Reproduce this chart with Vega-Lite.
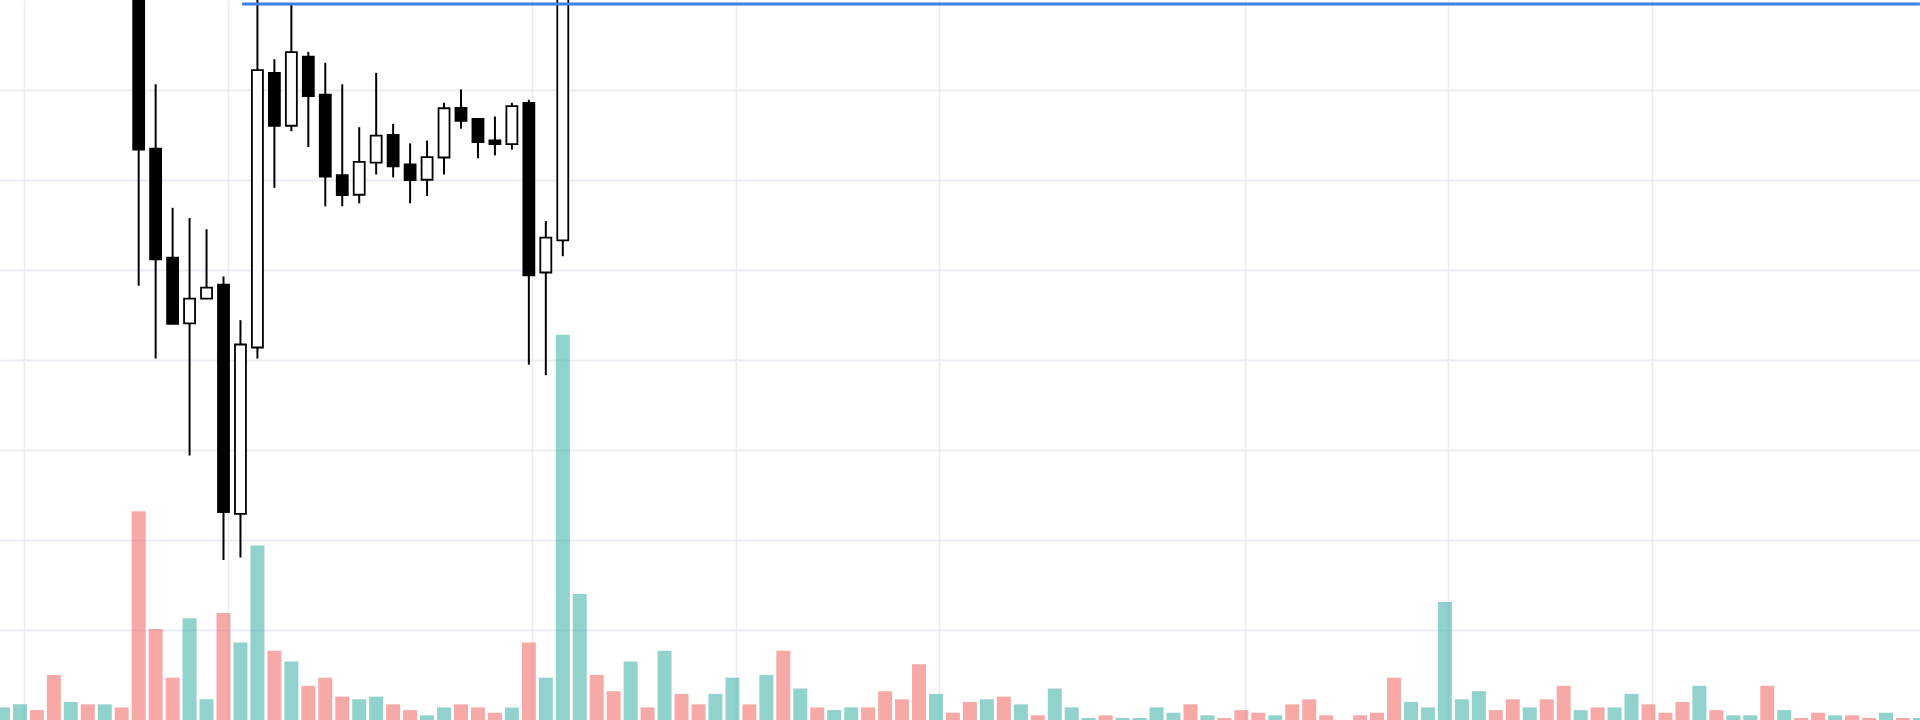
{
  "$schema": "https://vega.github.io/schema/vega-lite/v6.json",
  "width": 1920,
  "height": 720,
  "autosize": {"type": "fit", "contains": "padding"},
  "padding": 0,
  "background": "white",
  "config": {
    "view": {"stroke": null},
    "axis": {"gridColor": "#E9EEF5", "gridWidth": 1.8, "labels": false, "ticks": false, "domain": false, "title": null}
  },
  "datasets": {
    "volume": [
      {"k":0,"volume":1.4,"dir":"up"},{"k":1,"volume":1.74,"dir":"up"},{"k":2,"volume":1.1,"dir":"down"},{"k":3,"volume":5.0,"dir":"down"},
      {"k":4,"volume":2.0,"dir":"up"},{"k":5,"volume":1.74,"dir":"down"},{"k":6,"volume":1.74,"dir":"up"},{"k":7,"volume":1.4,"dir":"down"},
      {"k":8,"volume":23.2,"dir":"down"},{"k":9,"volume":10.1,"dir":"down"},{"k":10,"volume":4.7,"dir":"down"},{"k":11,"volume":11.3,"dir":"up"},
      {"k":12,"volume":2.3,"dir":"up"},{"k":13,"volume":11.9,"dir":"down"},{"k":14,"volume":8.6,"dir":"up"},{"k":15,"volume":19.4,"dir":"up"},
      {"k":16,"volume":7.7,"dir":"down"},{"k":17,"volume":6.5,"dir":"up"},{"k":18,"volume":3.8,"dir":"down"},{"k":19,"volume":4.7,"dir":"down"},
      {"k":20,"volume":2.6,"dir":"down"},{"k":21,"volume":2.3,"dir":"up"},{"k":22,"volume":2.6,"dir":"up"},{"k":23,"volume":1.74,"dir":"down"},
      {"k":24,"volume":1.1,"dir":"down"},{"k":25,"volume":0.52,"dir":"up"},{"k":26,"volume":1.4,"dir":"up"},{"k":27,"volume":1.74,"dir":"down"},
      {"k":28,"volume":1.4,"dir":"down"},{"k":29,"volume":0.81,"dir":"down"},{"k":30,"volume":1.4,"dir":"up"},{"k":31,"volume":8.6,"dir":"down"},
      {"k":32,"volume":4.7,"dir":"up"},{"k":33,"volume":42.8,"dir":"up"},{"k":34,"volume":14.0,"dir":"up"},{"k":35,"volume":5.0,"dir":"down"},
      {"k":36,"volume":3.2,"dir":"down"},{"k":37,"volume":6.5,"dir":"up"},{"k":38,"volume":1.4,"dir":"down"},{"k":39,"volume":7.7,"dir":"up"},
      {"k":40,"volume":2.9,"dir":"down"},{"k":41,"volume":1.74,"dir":"down"},{"k":42,"volume":2.9,"dir":"up"},{"k":43,"volume":4.7,"dir":"up"},
      {"k":44,"volume":1.74,"dir":"down"},{"k":45,"volume":5.0,"dir":"up"},{"k":46,"volume":7.7,"dir":"down"},{"k":47,"volume":3.5,"dir":"up"},
      {"k":48,"volume":1.4,"dir":"down"},{"k":49,"volume":1.1,"dir":"up"},{"k":50,"volume":1.4,"dir":"up"},{"k":51,"volume":1.4,"dir":"down"},
      {"k":52,"volume":3.2,"dir":"down"},{"k":53,"volume":2.3,"dir":"down"},{"k":54,"volume":6.2,"dir":"down"},{"k":55,"volume":2.9,"dir":"up"},
      {"k":56,"volume":0.81,"dir":"down"},{"k":57,"volume":2.0,"dir":"down"},{"k":58,"volume":2.3,"dir":"up"},{"k":59,"volume":2.6,"dir":"down"},
      {"k":60,"volume":1.74,"dir":"up"},{"k":61,"volume":0.52,"dir":"down"},{"k":62,"volume":3.5,"dir":"up"},{"k":63,"volume":1.4,"dir":"up"},
      {"k":64,"volume":0.22,"dir":"up"},{"k":65,"volume":0.52,"dir":"down"},{"k":66,"volume":0.22,"dir":"up"},{"k":67,"volume":0.22,"dir":"up"},
      {"k":68,"volume":1.4,"dir":"up"},{"k":69,"volume":0.81,"dir":"up"},{"k":70,"volume":1.74,"dir":"down"},{"k":71,"volume":0.52,"dir":"up"},
      {"k":72,"volume":0.22,"dir":"down"},{"k":73,"volume":1.1,"dir":"down"},{"k":74,"volume":0.81,"dir":"down"},{"k":75,"volume":0.52,"dir":"up"},
      {"k":76,"volume":1.74,"dir":"down"},{"k":77,"volume":2.3,"dir":"down"},{"k":78,"volume":0.52,"dir":"down"},{"k":79,"volume":0,"dir":"down"},
      {"k":80,"volume":0.52,"dir":"down"},{"k":81,"volume":0.81,"dir":"down"},{"k":82,"volume":4.7,"dir":"down"},{"k":83,"volume":2.0,"dir":"up"},
      {"k":84,"volume":1.4,"dir":"up"},{"k":85,"volume":13.1,"dir":"up"},{"k":86,"volume":2.3,"dir":"up"},{"k":87,"volume":3.2,"dir":"up"},
      {"k":88,"volume":1.1,"dir":"down"},{"k":89,"volume":2.3,"dir":"down"},{"k":90,"volume":1.4,"dir":"up"},{"k":91,"volume":2.3,"dir":"down"},
      {"k":92,"volume":3.8,"dir":"down"},{"k":93,"volume":1.1,"dir":"up"},{"k":94,"volume":1.4,"dir":"down"},{"k":95,"volume":1.4,"dir":"up"},
      {"k":96,"volume":2.9,"dir":"up"},{"k":97,"volume":1.74,"dir":"down"},{"k":98,"volume":0.81,"dir":"down"},{"k":99,"volume":2.0,"dir":"down"},
      {"k":100,"volume":3.8,"dir":"up"},{"k":101,"volume":1.1,"dir":"down"},{"k":102,"volume":0.52,"dir":"up"},{"k":103,"volume":0.52,"dir":"up"},
      {"k":104,"volume":3.8,"dir":"down"},{"k":105,"volume":1.1,"dir":"up"},{"k":106,"volume":0.22,"dir":"down"},{"k":107,"volume":0.81,"dir":"down"},
      {"k":108,"volume":0.52,"dir":"up"},{"k":109,"volume":0.52,"dir":"down"},{"k":110,"volume":0.22,"dir":"down"},{"k":111,"volume":0.81,"dir":"up"},
      {"k":112,"volume":0.22,"dir":"down"},{"k":113,"volume":0.22,"dir":"up"}
    ],
    "candles": [
      {"k":8,"open":185.0,"high":187.0,"low":148.24,"close":163.37,"dir":"down"},
      {"k":9,"open":163.49,"high":170.63,"low":140.16,"close":151.17,"dir":"down"},
      {"k":10,"open":151.37,"high":156.91,"low":144.02,"close":144.02,"dir":"down"},
      {"k":11,"open":144.06,"high":155.77,"low":129.39,"close":146.81,"dir":"up"},
      {"k":12,"open":146.81,"high":154.53,"low":146.81,"close":148.04,"dir":"up"},
      {"k":13,"open":148.37,"high":149.28,"low":117.78,"close":123.11,"dir":"down"},
      {"k":14,"open":122.9,"high":144.43,"low":118.06,"close":141.72,"dir":"up"},
      {"k":15,"open":141.39,"high":183.3,"low":140.16,"close":172.2,"dir":"up"},
      {"k":16,"open":171.91,"high":173.43,"low":159.13,"close":166.03,"dir":"down"},
      {"k":17,"open":166.03,"high":179.56,"low":165.42,"close":174.21,"dir":"up"},
      {"k":18,"open":173.71,"high":174.24,"low":163.66,"close":169.32,"dir":"down"},
      {"k":19,"open":169.49,"high":173.02,"low":157.08,"close":160.37,"dir":"down"},
      {"k":20,"open":160.53,"high":170.63,"low":157.08,"close":158.31,"dir":"down"},
      {"k":21,"open":158.36,"high":165.87,"low":157.41,"close":162.01,"dir":"up"},
      {"k":22,"open":161.92,"high":171.91,"low":160.61,"close":164.92,"dir":"up"},
      {"k":23,"open":165.01,"high":166.24,"low":160.29,"close":161.51,"dir":"down"},
      {"k":24,"open":161.72,"high":164.07,"low":157.41,"close":160.0,"dir":"down"},
      {"k":25,"open":160.03,"high":164.39,"low":158.23,"close":162.54,"dir":"up"},
      {"k":26,"open":162.5,"high":168.58,"low":160.61,"close":167.97,"dir":"up"},
      {"k":27,"open":168.0,"high":170.06,"low":165.7,"close":166.57,"dir":"down"},
      {"k":28,"open":166.78,"high":166.78,"low":162.42,"close":164.22,"dir":"down"},
      {"k":29,"open":164.39,"high":167.06,"low":162.74,"close":163.98,"dir":"down"},
      {"k":30,"open":163.98,"high":168.58,"low":163.37,"close":168.21,"dir":"up"},
      {"k":31,"open":168.58,"high":168.91,"low":139.46,"close":149.4,"dir":"down"},
      {"k":32,"open":149.72,"high":155.43,"low":138.31,"close":153.59,"dir":"up"},
      {"k":33,"open":153.3,"high":188.9,"low":151.53,"close":186.67,"dir":"up"}
    ],
    "level": [{"start":14.1,"end":113,"price":179.56}]
  },
  "layer": [
    {
      "data": {"name": "volume"},
      "mark": {"type": "bar", "width": 14, "opacity": 0.5, "clip": true},
      "encoding": {
        "x": {"field": "k", "type": "quantitative",
              "scale": {"domain": [0.12, 112.71], "nice": false, "zero": false},
              "axis": {"values": [1.25, 13.25, 31.2, 43.2, 55.2, 73.2, 85.2, 97.2], "grid": true}},
        "y": {"field": "volume", "type": "quantitative", "scale": {"domain": [0, 80], "nice": false}, "axis": null},
        "color": {"field": "dir", "type": "nominal", "scale": {"domain": ["up", "down"], "range": ["#26a69a", "#ef5350"]}, "legend": null}
      }
    },
    {
      "data": {"name": "candles"},
      "mark": {"type": "rule", "strokeWidth": 2, "color": "black", "clip": true},
      "encoding": {
        "x": {"field": "k", "type": "quantitative", "scale": {"domain": [0.12, 112.71], "nice": false, "zero": false}},
        "y": {"field": "low", "type": "quantitative", "scale": {"domain": [100, 180], "nice": false, "zero": false},
              "axis": {"values": [110, 120, 130, 140, 150, 160, 170], "grid": true}},
        "y2": {"field": "high"}
      }
    },
    {
      "data": {"name": "candles"},
      "mark": {"type": "bar", "width": 11, "stroke": "black", "strokeWidth": 1.8, "clip": true},
      "encoding": {
        "x": {"field": "k", "type": "quantitative", "scale": {"domain": [0.12, 112.71], "nice": false, "zero": false}},
        "y": {"field": "open", "type": "quantitative", "scale": {"domain": [100, 180], "nice": false, "zero": false}, "axis": null},
        "y2": {"field": "close"},
        "fill": {"field": "dir", "type": "nominal", "scale": {"domain": ["up", "down"], "range": ["white", "black"]}, "legend": null}
      }
    },
    {
      "data": {"name": "level"},
      "mark": {"type": "rule", "color": "#3d7ee6", "strokeWidth": 3, "clip": true},
      "encoding": {
        "x": {"field": "start", "type": "quantitative", "scale": {"domain": [0.12, 112.71], "nice": false, "zero": false}},
        "x2": {"field": "end"},
        "y": {"field": "price", "type": "quantitative", "scale": {"domain": [100, 180], "nice": false, "zero": false}, "axis": null}
      }
    }
  ],
  "resolve": {"scale": {"y": "independent", "color": "independent", "fill": "independent"}}
}
